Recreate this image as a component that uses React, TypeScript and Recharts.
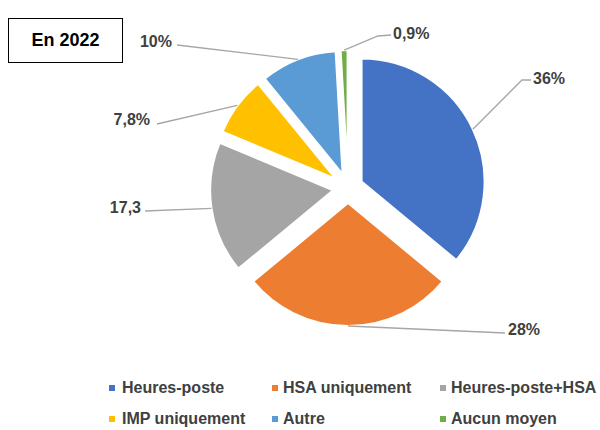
import React from 'react';
import { PieChart, Pie, Sector, Legend, Cell } from 'recharts';

const categories = ['Heures-poste', 'HSA uniquement', 'Heures-poste+HSA', 'IMP uniquement', 'Autre', 'Aucun moyen'];
const shares = [36, 28, 17.3, 7.8, 10, 0.9];
const valueLabels = ['36%', '28%', '17,3', '7,8%', '10%', '0,9%'];
const COLORS = ['#4472C4', '#ED7D31', '#A5A5A5', '#FFC000', '#5B9BD5', '#70AD47'];

const data = categories.map((name, i) => ({ name, value: shares[i] }));

const CX = 348;
const CY = 188;
const R = 123;
const EXPLODE = 15;
const RAD = Math.PI / 180;
const FONT = '"Liberation Sans", Arial, sans-serif';
const TEXT_COLOR = '#404040';

// leader-line bend points and text anchors, relative to the pie centre
const LABEL_LAYOUT: { pts: number[][]; text: number[]; anchor: 'start' | 'end' }[] = [
  { pts: [[174, -108], [183, -108]], text: [185, -110], anchor: 'start' },
  { pts: [[157, 145]], text: [160, 141], anchor: 'start' },
  { pts: [[-203, 23]], text: [-207, 19], anchor: 'end' },
  { pts: [[-191, -64]], text: [-198, -69], anchor: 'end' },
  { pts: [[-171, -143]], text: [-176, -147], anchor: 'end' },
  { pts: [[30, -152], [43, -153]], text: [45, -155], anchor: 'start' },
];

const renderSlice = (props: any) => {
  const { cx, cy, midAngle, innerRadius, outerRadius, startAngle, endAngle, index } = props;
  const ux = Math.cos(-midAngle * RAD);
  const uy = Math.sin(-midAngle * RAD);
  const sx = cx + EXPLODE * ux;
  const sy = cy + EXPLODE * uy;
  const ax = sx + outerRadius * ux;
  const ay = sy + outerRadius * uy;
  const lay = LABEL_LAYOUT[index];
  const pts = [[ax, ay], ...lay.pts.map(([x, y]) => [cx + x, cy + y])];
  return (
    <g key={`slice-${index}`}>
      <Sector
        cx={sx}
        cy={sy}
        innerRadius={innerRadius}
        outerRadius={outerRadius}
        startAngle={startAngle}
        endAngle={endAngle}
        fill={COLORS[index]}
        stroke="#fff"
        strokeWidth={2}
      />
      <polyline
        points={pts.map((p) => p.join(',')).join(' ')}
        fill="none"
        stroke="#A6A6A6"
        strokeWidth={1.3}
      />
      <text
        x={cx + lay.text[0]}
        y={cy + lay.text[1]}
        textAnchor={lay.anchor}
        dominantBaseline="central"
        fontFamily={FONT}
        fontWeight="bold"
        fontSize={16}
        fill={TEXT_COLOR}
      >
        {valueLabels[index]}
      </text>
    </g>
  );
};

const MARKER_X = [112, 275, 443];
const TEXT_X = [122, 283, 451];
const ROW_Y = [18, 49];

const renderLegend = () => (
  <div style={{ position: 'relative', width: 600, height: 60 }}>
    {categories.map((c, i) => {
      const col = i % 3;
      const row = Math.floor(i / 3);
      return (
        <React.Fragment key={c}>
          <div
            style={{
              position: 'absolute',
              left: MARKER_X[col] - 3,
              top: ROW_Y[row] - 3,
              width: 6,
              height: 6,
              background: COLORS[i],
            }}
          />
          <div
            style={{
              position: 'absolute',
              left: TEXT_X[col],
              top: ROW_Y[row] - 10,
              height: 20,
              lineHeight: '20px',
              fontFamily: FONT,
              fontWeight: 'bold',
              fontSize: 16,
              color: TEXT_COLOR,
              whiteSpace: 'nowrap',
            }}
          >
            {c}
          </div>
        </React.Fragment>
      );
    })}
  </div>
);

export default function App() {
  return (
    <div style={{ position: 'absolute', left: 0, top: 0, width: 600, height: 430, background: '#fff' }}>
      <PieChart width={600} height={430} margin={{ top: 0, right: 0, bottom: 0, left: 0 }}>
        <Pie
          data={data}
          dataKey="value"
          nameKey="name"
          cx={CX}
          cy={CY}
          innerRadius={0}
          outerRadius={R}
          startAngle={90}
          endAngle={-270}
          stroke="none"
          label={renderSlice}
          labelLine={false}
          isAnimationActive={false}
        >
          {data.map((d) => (
            <Cell key={d.name} fill="none" />
          ))}
        </Pie>
        <Legend
          content={renderLegend}
          wrapperStyle={{ position: 'absolute', left: 0, top: 370, width: 600, height: 60 }}
        />
      </PieChart>
      <div
        style={{
          position: 'absolute',
          left: 8,
          top: 18,
          width: 113,
          height: 43,
          border: '1.5px solid #000',
          display: 'flex',
          alignItems: 'center',
          justifyContent: 'center',
          fontFamily: FONT,
          fontWeight: 'bold',
          fontSize: 18,
          color: '#000',
        }}
      >
        En 2022
      </div>
    </div>
  );
}
